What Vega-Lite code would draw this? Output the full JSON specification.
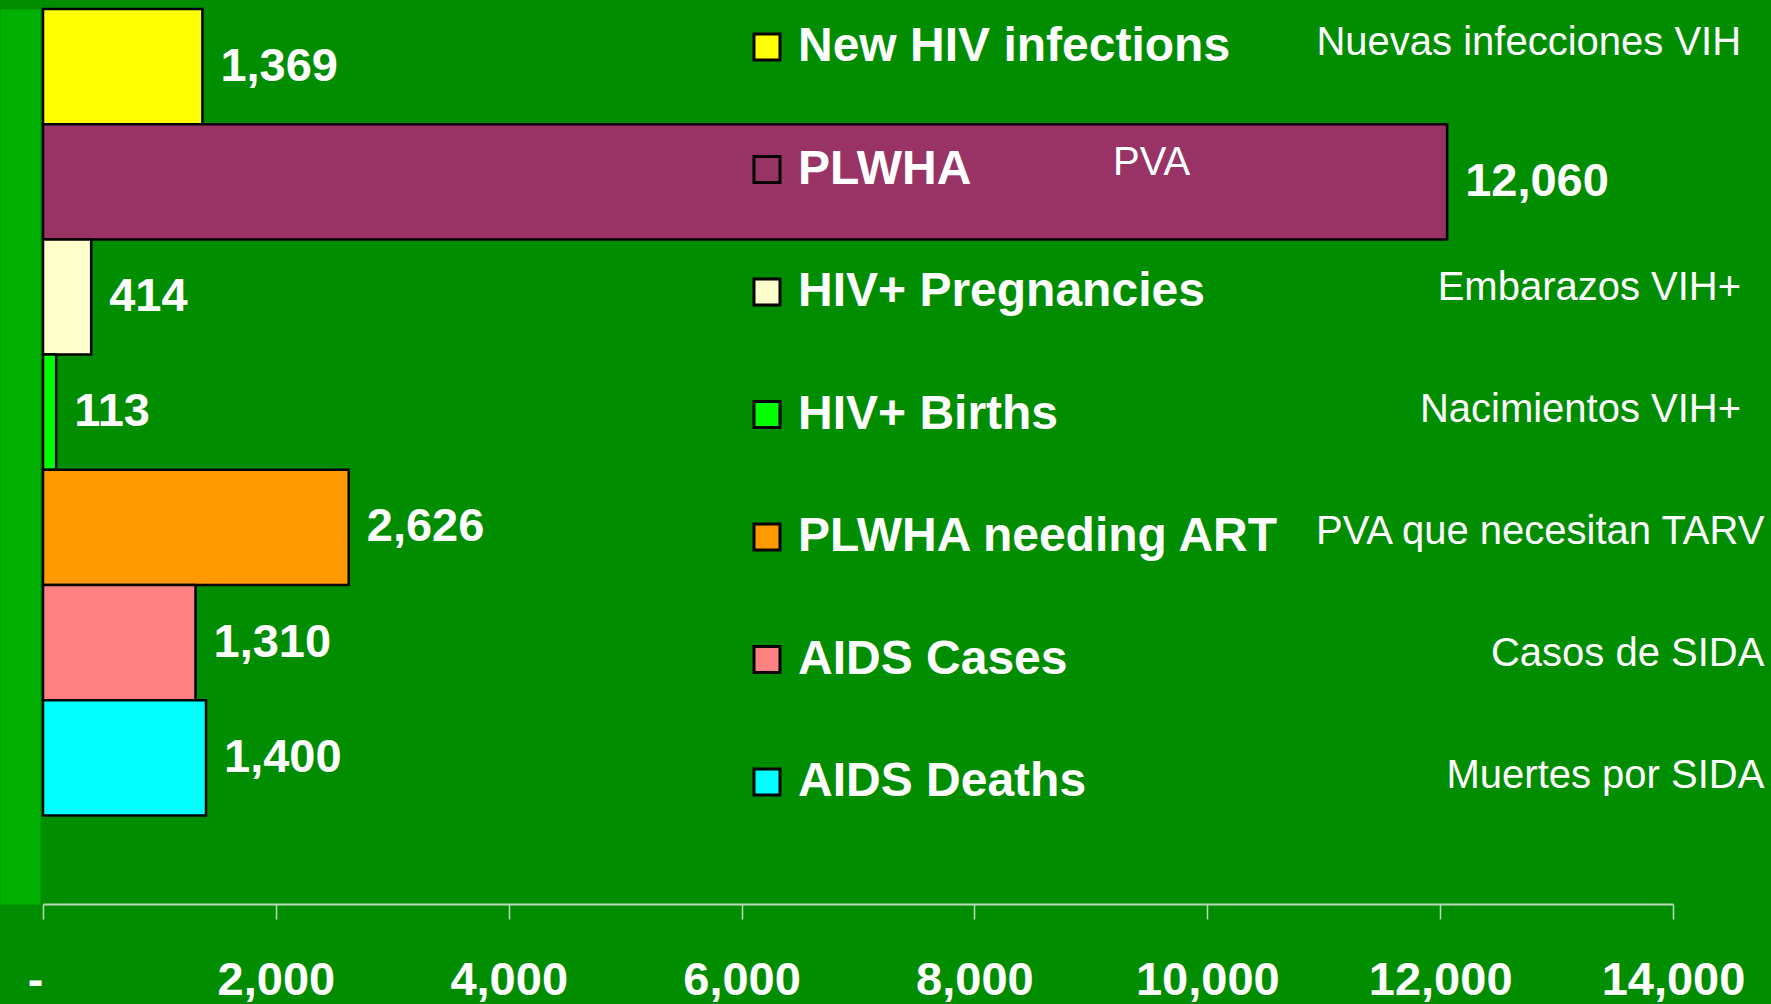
{
  "$schema": "https://vega.github.io/schema/vega-lite/v6.json",
  "width": 1630,
  "height": 895,
  "autosize": {"type": "none"},
  "padding": {"left": 43, "top": 9, "right": 98, "bottom": 100},
  "background": "#008e00",
  "config": {"view": {"stroke": null, "fill": "#008e00"}, "font": "Liberation Sans"},
  "data": {
    "values": [
      {"category": "New HIV infections", "es": "Nuevas infecciones VIH", "value": 1369},
      {"category": "PLWHA", "es": "PVA", "value": 12060},
      {"category": "HIV+ Pregnancies", "es": "Embarazos VIH+", "value": 414},
      {"category": "HIV+ Births", "es": "Nacimientos VIH+", "value": 113},
      {"category": "PLWHA needing ART", "es": "PVA que necesitan TARV", "value": 2626},
      {"category": "AIDS Cases", "es": "Casos de SIDA", "value": 1310},
      {"category": "AIDS Deaths", "es": "Muertes por SIDA", "value": 1400}
    ]
  },
  "layer": [
    {
      "layer": [
        {
          "mark": {"type": "bar", "stroke": "black", "strokeWidth": 2.5},
          "encoding": {
            "y": {
              "field": "category", "type": "nominal",
              "sort": ["New HIV infections", "PLWHA", "HIV+ Pregnancies", "HIV+ Births", "PLWHA needing ART", "AIDS Cases", "AIDS Deaths"],
              "scale": {"paddingInner": 0, "paddingOuter": 0.3845, "align": 0},
              "axis": {"labels": false, "ticks": false, "title": null, "grid": false, "domainColor": "#00b000", "domainWidth": 40, "offset": 23}
            },
            "x": {
              "field": "value", "type": "quantitative",
              "scale": {"domain": [0, 14000], "nice": false},
              "axis": {
                "values": [0, 2000, 4000, 6000, 8000, 10000, 12000, 14000],
                "labelExpr": "datum.value === 0 ? '-\u00a0\u00a0' : format(datum.value, ',')",
                "labelAlign": {"condition": {"test": "datum.value === 0", "value": "right"}, "value": "center"},
                "labelFont": "Liberation Sans", "labelFontSize": 47, "labelFontWeight": "bold", "labelColor": "white",
                "labelPadding": 38, "tickSize": 15, "tickColor": "#b9d9b9", "tickWidth": 1.5,
                "domainColor": "#b9d9b9", "domainWidth": 2, "grid": false, "title": null,
                "labelFlush": false, "labelOverlap": false, "labelBound": false
              }
            },
            "color": {
              "field": "category", "type": "nominal",
              "scale": {
                "domain": ["New HIV infections", "PLWHA", "HIV+ Pregnancies", "HIV+ Births", "PLWHA needing ART", "AIDS Cases", "AIDS Deaths"],
                "range": ["#ffff00", "#993366", "#ffffcc", "#00ff00", "#ff9900", "#ff8080", "#00ffff"]
              },
              "legend": {
                "orient": "none", "legendX": 700, "legendY": 14, "title": null,
                "symbolType": "square", "symbolSize": 676, "symbolStrokeColor": "black", "symbolStrokeWidth": 3, "symbolOpacity": 1,
                "labelFontSize": 48, "labelFontWeight": "bold", "labelColor": "white", "labelFont": "Liberation Sans",
                "labelLimit": 1000, "labelOffset": 7, "rowPadding": 74.5, "padding": 0, "direction": "vertical"
              }
            }
          }
        },
        {
          "mark": {"type": "text", "align": "left", "baseline": "middle", "dx": 18, "fontSize": 47, "fontWeight": "bold", "color": "white", "font": "Liberation Sans"},
          "encoding": {
            "y": {"field": "category", "type": "nominal", "sort": ["New HIV infections", "PLWHA", "HIV+ Pregnancies", "HIV+ Births", "PLWHA needing ART", "AIDS Cases", "AIDS Deaths"]},
            "x": {"field": "value", "type": "quantitative"},
            "text": {"field": "value", "type": "quantitative", "format": ","}
          }
        }
      ]
    },
    {
      "layer": [
        {
          "transform": [{"filter": "indexof(['New HIV infections','HIV+ Pregnancies','HIV+ Births'], datum.category) >= 0"}],
          "mark": {"type": "text", "align": "right", "baseline": "middle", "dy": -3, "fontSize": 40, "color": "white", "font": "Liberation Sans"},
          "encoding": {
            "y": {"field": "category", "type": "nominal", "sort": ["New HIV infections", "PLWHA", "HIV+ Pregnancies", "HIV+ Births", "PLWHA needing ART", "AIDS Cases", "AIDS Deaths"], "scale": {"type": "point", "padding": 0.662, "align": 0.2305}, "axis": null},
            "x": {"datum": 14585, "type": "quantitative"},
            "text": {"field": "es", "type": "nominal"}
          }
        },
        {
          "transform": [{"filter": "indexof(['PLWHA needing ART','AIDS Cases','AIDS Deaths'], datum.category) >= 0"}],
          "mark": {"type": "text", "align": "right", "baseline": "middle", "dy": -3, "fontSize": 40, "color": "white", "font": "Liberation Sans"},
          "encoding": {
            "y": {"field": "category", "type": "nominal", "sort": ["New HIV infections", "PLWHA", "HIV+ Pregnancies", "HIV+ Births", "PLWHA needing ART", "AIDS Cases", "AIDS Deaths"], "scale": {"type": "point", "padding": 0.662, "align": 0.2305}, "axis": null},
            "x": {"datum": 14785, "type": "quantitative"},
            "text": {"field": "es", "type": "nominal"}
          }
        },
        {
          "transform": [{"filter": "datum.category === 'PLWHA'"}],
          "mark": {"type": "text", "align": "center", "baseline": "middle", "dy": -5, "fontSize": 40, "color": "white", "font": "Liberation Sans"},
          "encoding": {
            "y": {"field": "category", "type": "nominal", "sort": ["New HIV infections", "PLWHA", "HIV+ Pregnancies", "HIV+ Births", "PLWHA needing ART", "AIDS Cases", "AIDS Deaths"], "scale": {"type": "point", "padding": 0.662, "align": 0.2305}, "axis": null},
            "x": {"datum": 9522, "type": "quantitative"},
            "text": {"field": "es", "type": "nominal"}
          }
        }
      ]
    }
  ],
  "resolve": {"scale": {"y": "independent"}}
}
